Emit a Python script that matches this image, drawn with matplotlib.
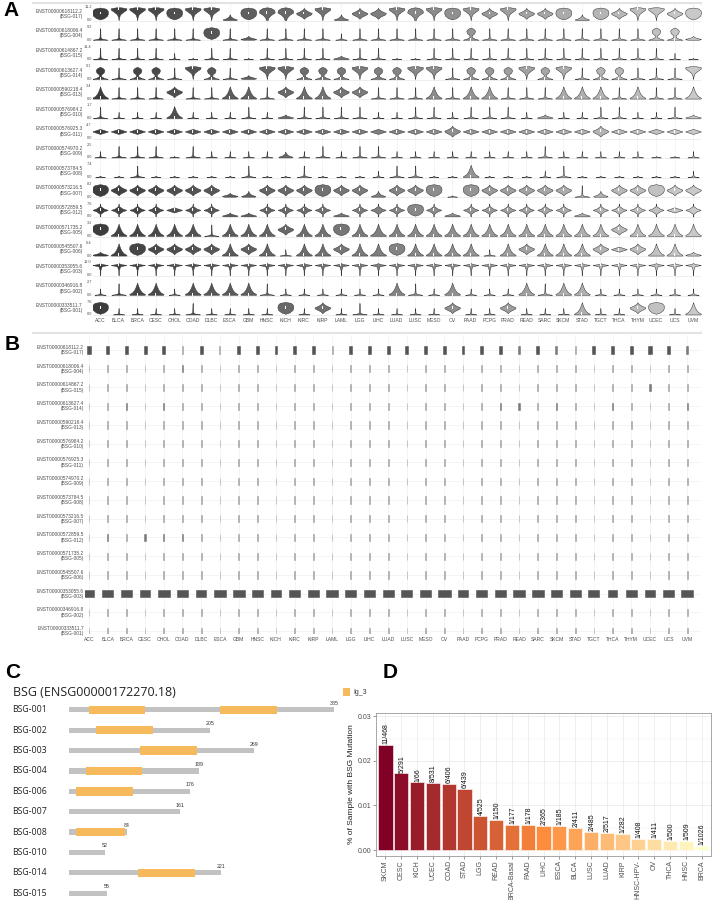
import numpy as np
import matplotlib
matplotlib.use('Agg')
import matplotlib.pyplot as plt
from matplotlib.patches import Rectangle
from matplotlib.lines import Line2D
from matplotlib.colors import LinearSegmentedColormap

plt.rcParams['font.family'] = ['Liberation Sans', 'DejaVu Sans']

W, H = 715, 900

# ---------------- data ----------------
cancers = ['ACC', 'BLCA', 'BRCA', 'CESC', 'CHOL', 'COAD', 'DLBC', 'ESCA', 'GBM', 'HNSC',
           'KICH', 'KIRC', 'KIRP', 'LAML', 'LGG', 'LIHC', 'LUAD', 'LUSC', 'MESO', 'OV',
           'PAAD', 'PCPG', 'PRAD', 'READ', 'SARC', 'SKCM', 'STAD', 'TGCT', 'THCA', 'THYM',
           'UCEC', 'UCS', 'UVM']
transcripts = ['ENST00000618112.2', 'ENST00000618006.4', 'ENST00000614867.2', 'ENST00000613627.4',
               'ENST00000590218.4', 'ENST00000576984.2', 'ENST00000576925.3', 'ENST00000574970.2',
               'ENST00000573784.5', 'ENST00000573216.5', 'ENST00000572859.5', 'ENST00000571735.2',
               'ENST00000545507.6', 'ENST00000353055.6', 'ENST00000346916.8', 'ENST00000333511.7']
isoforms = ['BSG-017', 'BSG-004', 'BSG-015', 'BSG-014', 'BSG-013', 'BSG-010', 'BSG-011', 'BSG-009',
            'BSG-008', 'BSG-007', 'BSG-012', 'BSG-005', 'BSG-006', 'BSG-003', 'BSG-002', 'BSG-001']
row_max = ['11.2', '9.2', '11.4', '9.1', '3.4', '1.7', '4.7', '2.5',
           '7.4', '8.2', '7.6', '3.2', '6.4', '12.0', '2.7', '7.6']

# violin shape per transcript x cancer
violin_codes = [
    'OVVVOVVP' + 'OBBDVPDDVBVOV' + 'DVDDOPODVVDO',
    'SSSSSSOS' + 'FSSSSsSSSSSSK' + 'SSSSSSSSSKKF',
    'SSSSsnSS' + 'nSSSSFSSnnSSS' + 'SSSSSSSSSSsn',
    'KSKKSVKS' + 'FVVKKKVKKVVSK' + 'KKVKVSKKSSSV',
    'TSSSDSST' + 'TSDTTDDSSSTST' + 'TSSSTTTSTSST',
    'SsssTsss' + 'SsFSSSSssSSsS' + 'SSsFssSSssSF',
    'EEEEEEEE' + 'EEEEEEEEEEEDE' + 'EEEEEEDEEEEE',
    'sSSSnSss' + 'ssPsSsSSsssss' + 'sssSsssssnns',
    'nnSnnnnn' + 'SnnSnnnsSSnnT' + 'nnnsSnnnnnns',
    'ODDDDDDF' + 'PDDDODDPDDOnO' + 'DDDDDSPDDODD',
    'XXXXEXXF' + 'FXXXXFXXXOXFX' + 'XXXXXFXXXXEX',
    'OTTTTTST' + 'TTDTTOTTTTTTT' + 'TTTTTTTDTTTT',
    'FTODDDDT' + 'DTsTTDTTOTTTT' + 'sTDTTTDEDTTF',
    'H' * 33,
    'sSTTsTTT' + 'TSssssssTSsTs' + 'ssTSTTssssss',
    'OssssSss' + 'ssOsDsSssssDs' + 'sDsssTssDOsT',
]

# panel B: bar share per cancer
b_share_017 = [.24, .22, .2, .22, .2, .07, .24, .07, .2, .2, .2, .2, .18, .07, .2, .18, .2,
               .2, .18, .2, .2, .22, .22, .14, .2, .14, .07, .2, .2, .24, .24, .24, .14]
b_share_003 = [.78, .75, .75, .75, .85, .85, .68, .9, .85, .78, .78, .78, .82, .8, .8, .8, .8,
               .8, .8, .95, .75, .78, .78, .8, .85, .85, .8, .8, .7, .75, .7, .78, .85]
b_share_default = 0.05
b_extra = [(1, 5, .1), (3, 2, .11), (3, 4, .09), (10, 1, .1), (10, 3, .1), (10, 4, .09),
           (10, 5, .1), (2, 30, .1), (3, 22, .1), (3, 23, .1), (3, 25, .11), (3, 28, .1),
           (3, 32, .1)]

# panel C
c_names = ['BSG-001', 'BSG-002', 'BSG-003', 'BSG-004', 'BSG-006', 'BSG-007', 'BSG-008',
           'BSG-010', 'BSG-014', 'BSG-015']
c_length = [385, 205, 269, 189, 176, 161, 84, 52, 221, 55]
c_domains = [[(29, 111), (219, 302)], [(39, 122)], [(103, 186)], [(24, 106)], [(10, 93)],
             [], [(10, 81)], [], [(100, 183)], []]

# panel D
d_types = ['SKCM', 'CESC', 'KICH', 'UCEC', 'COAD', 'STAD', 'LGG', 'READ', 'BRCA-Basal', 'PAAD',
           'LIHC', 'ESCA', 'BLCA', 'LUSC', 'LUAD', 'KIRP', 'HNSC-HPV-', 'OV', 'THCA', 'HNSC', 'BRCA']
d_mut = [11, 5, 1, 8, 6, 6, 4, 1, 1, 1, 2, 1, 2, 2, 2, 1, 1, 1, 1, 1, 1]
d_total = [468, 291, 66, 531, 406, 439, 525, 150, 177, 178, 365, 185, 411, 485, 517, 282,
           408, 411, 500, 509, 1026]

# violin outline templates: (heights 0..1, half widths 0..1)
shapes = {
    'S': ([0, .04, .1, .2, .5, .85, .9], [.9, .5, .15, .06, .04, .03, 0]),
    's': ([0, .03, .08, .15, .3, .5], [.7, .3, .1, .05, .03, 0]),
    'n': ([0, .03, .08, .12], [.6, .2, .03, 0]),
    'T': ([0, .05, .2, .4, .6, .8, .95], [.95, 1.0, .6, .35, .2, .08, 0]),
    'P': ([0, .05, .15, .3, .45], [.8, .9, .4, .1, 0]),
    'F': ([0, .05, .12, .2, .3], [.7, 1.0, .6, .15, 0]),
    'D': ([.1, .25, .45, .55, .7, .85, .95], [0, .25, .9, 1.0, .45, .1, 0]),
    'O': ([.05, .15, .35, .55, .75, .9, .98], [0, .5, .9, 1.0, .95, .7, 0]),
    'V': ([0, .2, .45, .65, .8, .92, 1], [0, .05, .2, .6, .95, 1.0, .3]),
    'B': ([0, .2, .4, .6, .8, .95, 1.0], [.1, .2, .5, 1.0, .9, .5, 0]),
    'K': ([0, .08, .2, .35, .5, .7, .85, .95], [.95, .5, .15, .15, .45, .55, .35, 0]),
    'E': ([.3, .42, .5, .58, .7], [0, .6, 1.0, .6, 0]),
    'X': ([0, .2, .4, .5, .6, .8, 1], [.03, .05, .5, 1.0, .5, .05, 0]),
    'H': ([0, .4, .7, .8, .87, .95], [.02, .04, .2, 1.0, .25, 0]),
}

fig = plt.figure(figsize=(W / 100, H / 100), dpi=100)


def ax_px(l, t, r, b):
    return fig.add_axes([l / W, 1 - b / H, (r - l) / W, (b - t) / H])


def grey(i):
    v = 0.24 + 0.55 * i / 32
    return (v, v, v)


# ---------------- panel A ----------------
ax = ax_px(93, 2, 701, 316)
ax.set_xlim(-0.38, 32.43)
ax.set_ylim(16, 0)
for s in ax.spines.values():
    s.set_visible(False)
ax.vlines(range(33), 0, 16, color='#ececec', lw=0.4, zorder=0)
ax.hlines(np.arange(16) + 0.96, -0.38, 32.43, color='#e6e6e6', lw=0.5, zorder=0)
for k in range(16):
    base = k + 0.92
    for i in range(33):
        code = violin_codes[k][i]
        h, w = shapes[code]
        hh = np.linspace(h[0], h[-1], 40)
        ww = np.interp(hh, h, w) * 0.43
        yy = base - hh * 0.65
        ax.fill_betweenx(yy, i - ww, i + ww, facecolor=grey(i), edgecolor='#333333', lw=0.35, zorder=2)
        if code in 'DOVBKEXTH':
            hm = h[int(np.argmax(w))]
            y0 = base - min(hm + 0.12, h[-1]) * 0.65
            ax.add_patch(Rectangle((i - 0.025, y0), 0.05, 0.15, facecolor='white',
                                   edgecolor='none', zorder=3))
    tr = ax.get_yaxis_transform()
    ax.text(-0.017, k + 0.6, transcripts[k] + '\n(' + isoforms[k] + ')', transform=tr,
            ha='right', va='center', fontsize=3.5, color='#4d4d4d', linespacing=1.05)
    ax.text(-0.002, k + 0.27, row_max[k], transform=tr, ha='right', va='center',
            fontsize=2.8, color='#4d4d4d')
    ax.text(-0.002, k + 0.92, '0.0', transform=tr, ha='right', va='center',
            fontsize=2.8, color='#4d4d4d')
ax.set_xticks(range(33))
ax.set_xticklabels(cancers, fontsize=3.6, color='#4d4d4d')
ax.tick_params(length=0, pad=1.2)
ax.set_yticks([])
fig.add_artist(Line2D([33 / W, 701 / W], [1 - 3 / H, 1 - 3 / H], color='#e3e3e3', lw=1.5))

# ---------------- panel B ----------------
ax = ax_px(85, 335, 701, 634)
ax.set_xlim(-0.214, 32.73)
ax.set_ylim(15.15, -0.8)
for s in ax.spines.values():
    s.set_visible(False)
ax.vlines(range(33), -0.8, 15.15, color='#ececec', lw=0.4, zorder=0)
ax.hlines(range(16), -0.214, 32.73, color='#ececec', lw=0.4, zorder=0)
shares = [[b_share_default] * 33 for _ in range(16)]
shares[0] = b_share_017
shares[13] = b_share_003
for r, c, v in b_extra:
    shares[r][c] = v
for k in range(16):
    for i in range(33):
        v = shares[k][i]
        col = '#555555' if v > 0.15 else ('#7a7a7a' if v >= 0.09 else '#a3a3a3')
        bw = v * 0.75
        ax.add_patch(Rectangle((i - bw / 2, k - 0.19), bw, 0.38, facecolor=col,
                               edgecolor=col, lw=0.4, zorder=2))
    ax.text(-0.002, k, transcripts[k] + '\n(' + isoforms[k] + ')', transform=ax.get_yaxis_transform(),
            ha='right', va='center', fontsize=3.5, color='#4d4d4d', linespacing=1.05)
ax.set_xticks(range(33))
ax.set_xticklabels(cancers, fontsize=3.6, color='#4d4d4d')
ax.tick_params(length=0, pad=2.5)
ax.set_yticks([])
fig.add_artist(Line2D([33 / W, 701 / W], [1 - 333 / H, 1 - 333 / H], color='#e3e3e3', lw=1.5))

# ---------------- panel C ----------------
ax = ax_px(0, 655, 360, 900)
ax.set_xlim(-100.3, 423)
ax.set_ylim(9.34, -2.7)
ax.axis('off')
for k, name in enumerate(c_names):
    ax.barh(k, c_length[k], height=0.25, left=0, color='#c2c2c2', zorder=1)
    for a, b in c_domains[k]:
        ax.barh(k, b - a, height=0.41, left=a, color='#f6b95c', zorder=2)
    ax.text(c_length[k], k - 0.32, str(c_length[k]), ha='center', va='center',
            fontsize=3.8, color='#333333')
    ax.text(-82, k, name, ha='left', va='center', fontsize=6.3, color='#222222',
            family=['Open Sans', 'DejaVu Sans'])
ax.text(-82, -0.88, 'BSG (ENSG00000172270.18)', ha='left', va='center', fontsize=9,
        color='#222222', family=['Open Sans', 'DejaVu Sans'])
ax.add_patch(Rectangle((398, -1.08), 10.5, 0.39, facecolor='#f6b95c', edgecolor='none',
                       clip_on=False))
ax.text(413, -0.88, 'Ig_3', ha='left', va='center', fontsize=5, color='#333333', clip_on=False)

# ---------------- panel D ----------------
ax = ax_px(376, 712.7, 711, 856)
frac = np.array(d_mut) / np.array(d_total)
x = np.arange(len(d_types))
cmap = LinearSegmentedColormap.from_list('mut', ['#800026', '#fd8d3c', '#ffffcc'])
colors = cmap(np.linspace(0.0, 1.0, len(d_types)))
ax.bar(x, frac, width=0.9, color=colors, edgecolor='white', lw=0.4, zorder=3)
for i in range(len(d_types)):
    ax.text(x[i] + 0.05, frac[i] + 0.0002, f'{d_mut[i]}/{d_total[i]}', rotation=90,
            ha='center', va='bottom', fontsize=5, color='#111111', zorder=4)
ax.set_xlim(-0.6, 20.6)
ax.set_ylim(-0.00134, 0.0308)
ax.set_yticks([0, 0.01, 0.02, 0.03])
ax.set_yticklabels(['0.00', '0.01', '0.02', '0.03'])
ax.set_yticks([0.005, 0.015, 0.025], minor=True)
ax.set_xticks(x)
ax.set_xticklabels(d_types, rotation=90)
ax.tick_params(labelsize=5, colors='#4d4d4d', length=2, width=0.4, pad=1)
ax.tick_params(which='minor', length=0)
ax.grid(which='major', color='#e8e8e8', lw=0.5, zorder=0)
ax.grid(which='minor', axis='y', color='#f2f2f2', lw=0.35, zorder=0)
ax.set_axisbelow(True)
for s in ax.spines.values():
    s.set_color('#999999')
    s.set_linewidth(0.6)
ax.set_ylabel('% of Sample with BSG Mutation', fontsize=6, color='#222222', labelpad=2)

# panel letters
for letter, px, py in [('A', 3, 10), ('B', 5, 345), ('C', 5, 672), ('D', 383, 672)]:
    fig.text(px / W, 1 - py / H, letter, fontsize=15, fontweight='bold', ha='left', va='center',
             family=['Liberation Sans', 'DejaVu Sans'])

fig.savefig('out.png', dpi=100)
